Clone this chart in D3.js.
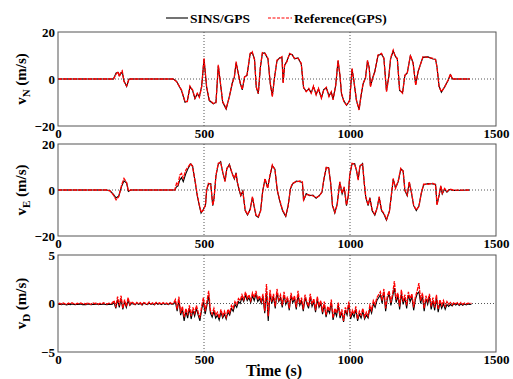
<!DOCTYPE html>
<html>
<head>
<meta charset="utf-8">
<script src="https://cdn.jsdelivr.net/npm/d3@7"></script>
<style>
  body { margin: 0; background: #fff; }
  svg text { font-family: "Liberation Serif", "Times New Roman", serif; font-weight: bold; }
</style>
</head>
<body>
<div id="chart"></div>
<script>
// north velocity: sample times and values
const tN = [0, 190, 199, 206, 210, 215, 220, 226, 235, 243, 252, 395, 406, 423, 435, 443, 452, 461, 469, 477, 484, 492, 500, 509, 518, 532, 541, 549, 555, 564, 576, 587, 597, 604, 610, 616, 624, 631, 639, 647, 658, 665, 673, 679, 686, 693, 700, 708, 713, 719, 727, 734, 742, 750, 759, 767, 771, 776, 784, 793, 802, 810, 822, 833, 841, 850, 859, 867, 875, 884, 892, 902, 910, 919, 928, 936, 942, 951, 959, 965, 971, 979, 988, 994, 999, 1007, 1013, 1022, 1031, 1039, 1045, 1053, 1060, 1066, 1070, 1077, 1085, 1096, 1108, 1116, 1125, 1133, 1139, 1148, 1155, 1162, 1170, 1180, 1188, 1196, 1207, 1216, 1225, 1233, 1241, 1250, 1267, 1284, 1293, 1298, 1305, 1313, 1324, 1336, 1344, 1351, 1410];
const gpsN = [0, 0, 2.1, 3.1, 1.0, 2.7, 3.5, -1.1, -3.0, 0, 0, 0, -1.1, -4.7, -9.6, -9.6, -3.0, -4.7, -8.2, -6.1, -7.8, -3.3, 8.8, -3.3, -8.9, -10.4, -10.1, 6.0, -0.4, -9.6, -12.5, -7.5, -1.8, 1.0, 7.4, 3.1, -1.8, -4.4, 1.0, 1.3, 10.9, 11.6, 8.2, -3.3, -6.1, 5.2, 11.2, 10.9, 10.2, 8.8, -1.8, -7.5, 1.0, 8.0, 8.8, 9.5, -1.8, 6.0, 7.4, 10.9, 10.2, 8.8, 8.8, 6.7, -3.5, -5.4, -4.0, -6.1, -3.0, -6.8, -4.0, -8.2, -4.7, -3.5, -7.5, -5.4, -8.9, -2.6, 8.0, 2.4, -6.1, -9.6, -11.0, -10.4, -8.9, 4.5, -0.4, -8.9, -13.2, -6.0, -1.8, 0.3, 8.0, 4.5, -3.3, 0.3, 3.1, 10.2, 10.9, 8.8, -5.4, 1.0, 8.8, 12.3, 9.5, 8.8, -4.7, -6.1, 1.7, 2.4, 10.2, 6.7, -2.6, 3.1, 6.0, 9.5, 9.2, 8.8, 8.2, 5.2, -3.3, -5.4, -3.5, -0.4, 2.1, 0, 0];
const sinsN = [0, 0, 2.6, 2.8, 1.4, 2.2, 3.0, -0.8, -3.2, 0, 0, 0, -1.0, -4.9, -9.9, -9.4, -3.3, -4.9, -8.4, -6.3, -7.6, -3.0, 8.4, -3.5, -9.2, -10.6, -9.9, 5.6, -0.6, -9.9, -12.8, -7.3, -1.6, 0.8, 7.0, 3.4, -1.6, -4.6, 0.8, 1.5, 10.6, 11.3, 8.5, -3.6, -6.3, 4.9, 11.0, 11.1, 9.9, 8.5, -2.0, -7.2, 1.2, 7.7, 9.0, 9.2, -1.5, 5.7, 7.7, 10.6, 10.4, 8.6, 9.0, 6.4, -3.7, -5.2, -4.3, -5.8, -3.3, -6.5, -4.3, -8.0, -4.5, -3.8, -7.2, -5.6, -8.6, -2.8, 7.6, 2.1, -6.4, -9.3, -11.2, -10.1, -9.1, 4.2, -0.6, -9.1, -12.9, -6.3, -2.0, 0.5, 7.7, 4.7, -3.0, 0.1, 3.3, 10.0, 10.6, 9.0, -5.1, 1.2, 8.5, 12.0, 9.8, 8.5, -4.9, -5.8, 1.5, 2.6, 9.9, 6.9, -2.4, 2.9, 6.2, 9.2, 9.4, 8.5, 8.4, 5.0, -3.1, -5.6, -3.3, -0.6, 1.8, 0, 0];

// east velocity
const tE = [0, 167, 178, 190, 199, 208, 218, 226, 235, 241, 249, 400, 406, 411, 417, 423, 429, 438, 446, 454, 461, 469, 477, 484, 490, 498, 505, 509, 515, 523, 530, 534, 541, 549, 557, 564, 572, 578, 587, 593, 598, 604, 610, 614, 621, 626, 633, 641, 649, 658, 666, 672, 678, 686, 694, 701, 709, 718, 726, 734, 743, 751, 759, 769, 780, 788, 796, 803, 816, 828, 837, 841, 850, 862, 873, 884, 896, 904, 911, 919, 927, 934, 940, 948, 956, 965, 973, 980, 988, 994, 999, 1007, 1016, 1022, 1028, 1034, 1043, 1049, 1054, 1062, 1068, 1076, 1085, 1093, 1100, 1108, 1116, 1125, 1135, 1143, 1148, 1156, 1165, 1174, 1182, 1188, 1196, 1203, 1210, 1218, 1227, 1236, 1244, 1252, 1267, 1284, 1293, 1298, 1305, 1311, 1316, 1324, 1332, 1341, 1355, 1410];
const gpsE = [0, 0, -0.4, -2.2, -4.3, -2.9, 2.2, 5.0, 3.3, -0.4, 0, 0, 2.9, 2.2, 6.5, 7.2, 5.1, 8.7, 10.1, 11.6, 10.1, 4.3, -2.2, -6.5, -9.7, -8.7, -6.5, 0, 2.9, 2.5, -6.5, -4.3, 6.5, 11.6, 12.0, 8.0, 3.6, 9.4, 10.9, 8.7, 6.5, 5.1, 7.2, 3.6, 0, -2.2, -0.7, -8.7, -10.6, -8.7, -2.9, -7.2, -10.9, -11.6, -9.1, -0.7, 5.0, 0.7, 6.5, 10.9, 8.7, 0, -4.3, -8.7, -11.2, -7.2, 0.7, 2.9, 3.6, 3.9, 3.6, -4.3, -1.9, -2.2, -2.5, -3.3, -2.5, -0.7, 5.1, 10.1, 9.4, 2.9, -6.5, -9.7, -6.5, 3.6, -1.4, 1.4, -6.5, -2.9, 6.5, 11.6, 11.2, 8.7, 4.3, 10.6, 11.2, 2.9, -2.9, -6.5, -3.6, -8.7, -10.6, -8.0, -2.9, -8.7, -10.1, -12.8, -9.4, -0.7, 5.0, 0.7, 3.9, 9.4, 8.0, 0, -2.2, 3.6, -0.7, -6.5, -8.7, -7.2, -1.4, 2.5, 2.5, 2.9, 2.2, -6.5, -2.2, 1.9, -1.4, 0.7, -0.7, 0.4, -0.1, 0];
const sinsE = [0, 0, -0.3, -1.9, -3.5, -2.6, 1.6, 4.0, 3.0, -0.6, 0, 0, 1.4, 1.8, 4.3, 5.4, 3.6, 7.2, 9.5, 11.3, 10.4, 4.0, -2.5, -6.8, -10.0, -8.4, -6.8, -0.3, 2.6, 2.8, -6.8, -4.0, 6.2, 11.3, 12.3, 7.7, 3.9, 9.1, 11.2, 8.4, 6.8, 4.8, 7.5, 3.3, -0.3, -2.5, -0.4, -9.0, -10.9, -8.4, -3.2, -7.5, -11.2, -11.9, -8.8, -0.4, 4.7, 1.0, 6.2, 10.6, 9.0, -0.3, -4.6, -9.0, -11.5, -6.9, 0.4, 2.6, 3.9, 3.6, 3.3, -4.6, -1.6, -2.5, -2.2, -3.6, -2.2, -1.0, 4.8, 9.8, 9.7, 2.6, -6.8, -10.0, -6.2, 3.3, -1.7, 1.1, -6.8, -2.6, 6.2, 11.3, 11.5, 8.4, 4.6, 10.3, 11.5, 2.6, -3.2, -6.8, -3.3, -9.0, -10.9, -7.7, -3.2, -9.0, -10.4, -13.1, -9.1, -1.0, 4.7, 1.0, 3.6, 9.1, 8.3, -0.3, -2.5, 3.3, -1.0, -6.8, -9.0, -6.9, -1.7, 2.2, 2.8, 2.6, 2.5, -6.2, -2.5, 1.6, -1.7, 0.4, -0.9, 0.2, -0.2, 0];

// down velocity, one reading every 6 s from 0 to 1416 s
const tD = d3.range(0, 1417, 6);
const gpsD = [
  -0.05, 0.02, -0.08, 0.05, -0.03, -0.1, 0.04, -0.06, 0.08, -0.02, -0.09, 0.03, -0.05, 0.06, -0.04, 0.01, -0.07, 0.09, -0.03, -0.06, 0.05, -0.02, 0.07, -0.08, 0.02, -0.04, 0.08, -0.01, -0.06, 0.04, -0.03, 0.06,
  0.3, -0.4, 0.7, -0.2, 0.8, -0.5, 0.4, -0.3, 0.6, -0.1, 0.2,
  0.05, -0.1, 0.12, -0.04, 0.08, -0.12, 0.1, 0.02, -0.08, 0.15, -0.05, 0.06, -0.1, 0.12, -0.02, 0.07, -0.09, 0.1, -0.04, 0.05, -0.07, 0.09, -0.03, 0.04,
  0.4, -0.6, 0.7, -1.0, -0.3, -1.4, -0.5, -1.2, -0.2,
  -1.3, -0.4, -1.0, -0.2, -0.9, -1.5, -0.3, 0.6, -0.8, 0.2, 1.3, -0.7, -1.1, -0.5, -1.2, -0.9, -1.5, -0.6, -1.3, -0.8, -1.4,
  -0.6, -1.0, -0.2, -0.5, 0.2, -0.1, 0.5, 0.3, 0.9, 0.4,
  1.2, 0.5, 0.9, 0.3, 1.1, 0.6, 1.3, 0.4, 0.8, 0.2, 1.0,
  -0.8, 2.0, -1.3,
  1.4, 0.2, 1.0, -0.3, 1.5, 0.4, 0.9, -0.2, 1.2, 0.1, 0.7, -0.5, 1.1, 0.3, 0.8, -0.4, 1.3, 0.0, 0.6, -0.6, 0.9, 0.2, -0.3, 1.0, -0.1, 0.5, -0.7, 0.7, -0.2, 0.3,
  -0.9, 0.2, -1.2, -0.3, -0.8, 0.4, -1.5, -0.5, -1.0, 0.1, -1.3, -0.6, -1.8, -0.4, -0.9, 0.2, -1.4, -0.7, -1.1, -0.3, -1.6, -0.8, -1.2, -0.5, -1.4,
  -0.9, -1.3, -0.2, -0.7, 0.3, -0.1, 0.6, 0.9,
  1.2, 0.3, 1.5, -0.5, 0.8, 1.3, 0.1, 1.0, 2.3, 0.4, 1.1, -0.3, 1.4, 0.2, 0.9, -0.2, 1.2, 0.5, 1.0, -0.4, 0.7, 1.3, 2.1, 0.3, 1.1, -0.5, 0.8, 0.2, 1.0, -0.3,
  0.6, -0.4, 0.9, -0.6, 0.4, -0.2, 0.3, -0.3, 0.2, -0.1,
  0.1, -0.15, 0.12, -0.05, 0.08, -0.1, 0.1, -0.08, 0.05, -0.06, 0.04, 0.0, 0.02
];
const sinsD = [
  -0.1, -0.08, -0.12, -0.06, -0.1, -0.14, -0.07, -0.11, -0.05, -0.09, -0.13, -0.08, -0.1, -0.06, -0.12, -0.09, -0.11, -0.05, -0.1, -0.13, -0.07, -0.09, -0.06, -0.12, -0.08, -0.1, -0.05, -0.09, -0.12, -0.07, -0.1, -0.08,
  0.1, -0.5, 0.4, -0.4, 0.5, -0.6, 0.2, -0.4, 0.3, -0.2, 0.0,
  -0.05, -0.12, 0.02, -0.1, 0.0, -0.15, 0.03, -0.06, -0.12, 0.05, -0.1, -0.02, -0.14, 0.04, -0.08, -0.01, -0.12, 0.02, -0.09, -0.03, -0.11, 0.01, -0.07, -0.04,
  0.2, -0.8, 0.4, -1.2, -0.6, -1.8, -0.8, -1.5, -0.5,
  -1.6, -0.7, -1.3, -0.5, -1.2, -1.8, -0.6, 0.2, -1.1, -0.2, 0.8, -1.0, -1.4, -0.8, -1.5, -1.2, -1.7, -0.9, -1.5, -1.1, -1.6,
  -0.9, -1.2, -0.5, -0.8, -0.1, -0.4, 0.2, 0.0, 0.6, 0.2,
  0.9, 0.3, 0.6, 0.1, 0.8, 0.3, 1.0, 0.2, 0.5, 0.0, 0.7,
  -1.0, 1.2, -1.8,
  1.0, 0.0, 0.7, -0.5, 1.1, 0.2, 0.6, -0.4, 0.9, -0.1, 0.4, -0.7, 0.8, 0.1, 0.5, -0.6, 0.9, -0.2, 0.3, -0.8, 0.6, 0.0, -0.5, 0.7, -0.3, 0.2, -0.9, 0.4, -0.4, 0.0,
  -1.1, -0.1, -1.4, -0.6, -1.0, 0.1, -1.7, -0.8, -1.3, -0.2, -1.5, -0.9, -1.9, -0.7, -1.2, -0.1, -1.6, -1.0, -1.4, -0.6, -1.8, -1.1, -1.5, -0.8, -1.6,
  -1.2, -1.5, -0.5, -1.0, 0.0, -0.4, 0.3, 0.6,
  0.9, 0.0, 1.2, -0.8, 0.5, 1.0, -0.2, 0.7, 1.6, 0.1, 0.8, -0.6, 1.0, -0.1, 0.6, -0.5, 0.9, 0.2, 0.7, -0.7, 0.4, 1.0, 1.2, 0.0, 0.8, -0.8, 0.5, -0.1, 0.7, -0.6,
  0.3, -0.7, 0.6, -0.9, 0.1, -0.5, 0.0, -0.6, -0.1, -0.3,
  -0.1, -0.25, 0.0, -0.15, -0.02, -0.2, -0.03, -0.18, -0.05, -0.14, -0.06, -0.1, -0.08
];

const xTicks = [0, 500, 1000, 1500];
const seriesNames = ["SINS/GPS", "Reference(GPS)"];

const panels = [
  { sub: "N", t: tN, sins: sinsN, gps: gpsN, yTicks: [-20, 0, 20], top: 32, bottom: 126 },
  { sub: "E", t: tE, sins: sinsE, gps: gpsE, yTicks: [-20, 0, 20], top: 144, bottom: 236 },
  { sub: "D", t: tD, sins: sinsD, gps: gpsD, yTicks: [-5, 0, 5], top: 255, bottom: 352 }
];

const width = 513, height = 379;
const left = 58, right = 496;

const svg = d3.select("#chart").append("svg")
  .attr("width", width)
  .attr("height", height);

const x = d3.scaleLinear().domain([0, 1500]).range([left, right]);
const fmt = d3.format("d");

panels.forEach(p => {
  const y = d3.scaleLinear()
    .domain([p.yTicks[0], p.yTicks[2]])
    .range([p.bottom, p.top]);

  const g = svg.append("g");

  // dotted grid at the inner ticks
  g.selectAll(".vgrid")
    .data([500, 1000])
    .enter().append("line")
    .attr("x1", d => x(d)).attr("x2", d => x(d))
    .attr("y1", p.top).attr("y2", p.bottom)
    .attr("stroke", "#555").attr("stroke-width", 1)
    .attr("stroke-dasharray", "1,2");

  g.append("line")
    .attr("x1", left).attr("x2", right)
    .attr("y1", y(0)).attr("y2", y(0))
    .attr("stroke", "#555").attr("stroke-width", 1)
    .attr("stroke-dasharray", "1,2");

  const pts = (vals) => p.t.map((t, i) => [t, vals[i]]);
  const line = d3.line().x(d => x(d[0])).y(d => y(d[1]));

  g.append("path")
    .attr("d", line(pts(p.sins)))
    .attr("fill", "none")
    .attr("stroke", "#000")
    .attr("stroke-width", 1.1);

  g.append("path")
    .attr("d", line(pts(p.gps)))
    .attr("fill", "none")
    .attr("stroke", "#ff0000")
    .attr("stroke-width", 1.3)
    .attr("stroke-dasharray", "4,1");

  // box
  g.append("rect")
    .attr("x", left).attr("y", p.top)
    .attr("width", right - left).attr("height", p.bottom - p.top)
    .attr("fill", "none").attr("stroke", "#555").attr("stroke-width", 1);

  const xAxis = g.append("g")
    .attr("transform", `translate(0,${p.bottom})`)
    .call(d3.axisBottom(x).tickValues(xTicks).tickFormat(fmt).tickSize(0).tickPadding(3));
  xAxis.select(".domain").remove();
  xAxis.selectAll("text").attr("font-size", 13).attr("fill", "#000")
    .attr("font-family", "Liberation Serif, serif");

  const yAxis = g.append("g")
    .attr("transform", `translate(${left},0)`)
    .call(d3.axisLeft(y).tickValues(p.yTicks).tickFormat(fmt).tickSize(0).tickPadding(3));
  yAxis.select(".domain").remove();
  yAxis.selectAll("text").attr("font-size", 13).attr("fill", "#000")
    .attr("font-family", "Liberation Serif, serif");

  // y label: v with subscript
  const lbl = svg.append("text")
    .attr("transform", `translate(26,${(p.top + p.bottom) / 2}) rotate(-90)`)
    .attr("text-anchor", "middle")
    .attr("font-size", 15);
  lbl.append("tspan").text("v");
  lbl.append("tspan").attr("font-size", 11).attr("dy", 4).text(p.sub);
  lbl.append("tspan").attr("dy", -4).text(" (m/s)");
});

svg.append("text")
  .attr("x", 274).attr("y", 376)
  .attr("text-anchor", "middle")
  .attr("font-size", 16)
  .text("Time (s)");

// legend
const legend = svg.append("g");
legend.append("line")
  .attr("x1", 166).attr("x2", 188).attr("y1", 18).attr("y2", 18)
  .attr("stroke", "#000").attr("stroke-width", 1.1);
legend.append("text")
  .attr("x", 190).attr("y", 22.5).attr("font-size", 13.5)
  .text(seriesNames[0]);
legend.append("line")
  .attr("x1", 268).attr("x2", 292).attr("y1", 18).attr("y2", 18)
  .attr("stroke", "#ff0000").attr("stroke-width", 1.1)
  .attr("stroke-dasharray", "3,1.5");
legend.append("text")
  .attr("x", 294).attr("y", 22.5).attr("font-size", 13.5)
  .text(seriesNames[1]);
</script>
</body>
</html>
